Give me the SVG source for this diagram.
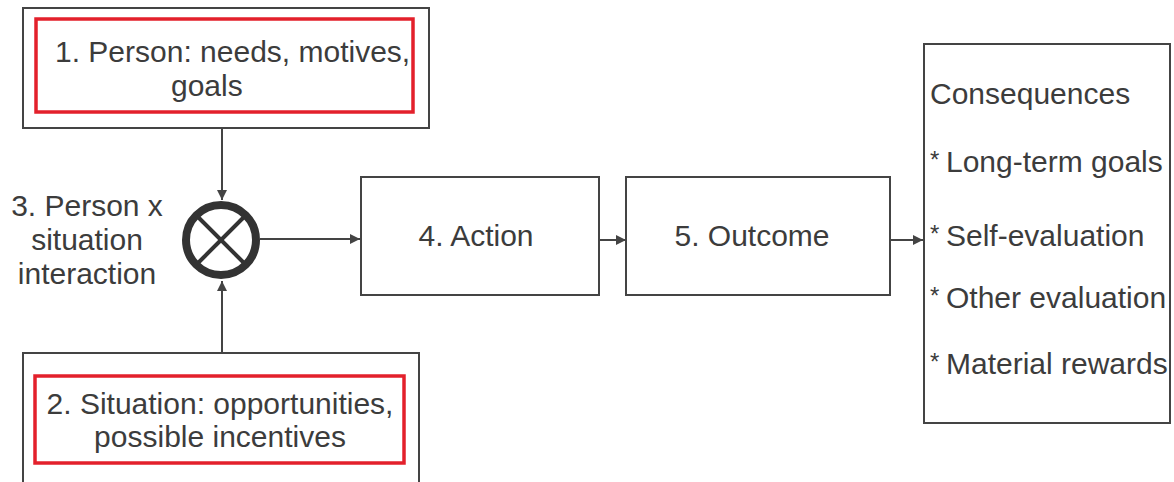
<svg xmlns="http://www.w3.org/2000/svg" width="1174" height="482" viewBox="0 0 1174 482">
<defs>
<style>
.t{font-family:"Liberation Sans",Arial,sans-serif;font-size:30px;fill:#3c3c3c}
.box{fill:#fff;stroke:#444;stroke-width:2}
.red{fill:none;stroke:#e3202b;stroke-width:3.5}
.ln{stroke:#444;stroke-width:2;fill:none}
.ast{font-family:"Liberation Sans",Arial,sans-serif;font-size:24px;fill:#3c3c3c}
</style>
<marker id="ah" viewBox="0 0 10 10" refX="10" refY="5" markerWidth="10" markerHeight="10" markerUnits="userSpaceOnUse" orient="auto">
<path d="M0,0 L10,5 L0,10 Z" fill="#444"/>
</marker>
</defs>
<rect width="1174" height="482" fill="#fff"/>
<g id="connectors">
<line class="ln" x1="222" y1="128" x2="222" y2="200" marker-end="url(#ah)"/>
<line class="ln" x1="222" y1="353" x2="222" y2="281" marker-end="url(#ah)"/>
<line class="ln" x1="260" y1="239" x2="360" y2="239" marker-end="url(#ah)"/>
<line class="ln" x1="599" y1="240" x2="626" y2="240" marker-end="url(#ah)"/>
<line class="ln" x1="890" y1="240" x2="923" y2="240" marker-end="url(#ah)"/>
</g>
<g id="person">
<rect class="box" x="23" y="8" width="406" height="120"/>
<rect class="red" x="36" y="19" width="377" height="93"/>
<text class="t" x="55" y="62">1. Person: needs, motives,</text>
<text class="t" x="171" y="96">goals</text>
</g>
<g id="situation">
<rect class="box" x="23" y="353" width="396" height="140"/>
<rect class="red" x="35" y="376" width="369" height="87"/>
<text class="t" x="220" y="414" text-anchor="middle">2. Situation: opportunities,</text>
<text class="t" x="220" y="447" text-anchor="middle">possible incentives</text>
</g>
<g id="interaction">
<circle cx="221" cy="240" r="35" fill="#fff" stroke="#333" stroke-width="8"/>
<line x1="197" y1="216" x2="245" y2="264" stroke="#333" stroke-width="4"/>
<line x1="245" y1="216" x2="197" y2="264" stroke="#333" stroke-width="4"/>
<text class="t" x="87" y="216" text-anchor="middle">3. Person x</text>
<text class="t" x="87" y="250" text-anchor="middle">situation</text>
<text class="t" x="87" y="284" text-anchor="middle">interaction</text>
</g>
<g id="action">
<rect class="box" x="361" y="177" width="238" height="118"/>
<text class="t" x="476" y="246" text-anchor="middle">4. Action</text>
</g>
<g id="outcome">
<rect class="box" x="626" y="177" width="264" height="118"/>
<text class="t" x="752" y="246" text-anchor="middle">5. Outcome</text>
</g>
<g id="consequences">
<rect class="box" x="924" y="44" width="246" height="379"/>
<text class="t" x="930" y="104">Consequences</text>
<text class="ast" x="930" y="168">*</text>
<text class="t" x="946" y="172">Long-term goals</text>
<text class="ast" x="930" y="242">*</text>
<text class="t" x="946" y="246">Self-evaluation</text>
<text class="ast" x="930" y="304">*</text>
<text class="t" x="946" y="308">Other evaluation</text>
<text class="ast" x="930" y="370">*</text>
<text class="t" x="946" y="374">Material rewards</text>
</g>
</svg>
